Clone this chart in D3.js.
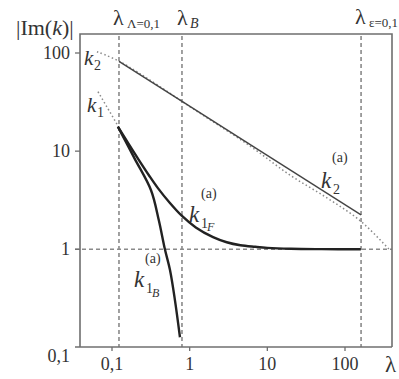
<!DOCTYPE html>
<html>
<head>
<meta charset="utf-8">
<script src="https://cdn.jsdelivr.net/npm/d3@7"></script>
<style>
  html, body { margin: 0; padding: 0; background: #fff; }
  svg { display: block; }
</style>
</head>
<body>
<svg id="chart" width="399" height="379" font-family="'Liberation Serif', 'Times New Roman', serif"></svg>
<script>
// ---- data ----
const xTicks = [0.1, 1, 10, 100];
const xTickLabels = ["0,1", "1", "10", "100"];
const yTicks = [100, 10, 1, 0.1];
const yTickLabels = ["100", "10", "1", "0,1"];

// vertical reference lambdas: λ_Λ=0,1 , λ_B , λ_ε=0,1
const refLambdas = [0.123, 0.796, 161];
const refLevel = 1;

// k2 solid (straight in log-log)
const k2Lambda = [0.123, 161];
const k2Value = [82, 2.24];

// k2 dotted asymptote
const k2DotLambda = [0.064, 0.127, 1.36, 5.97, 19.4, 60, 159, 378];
const k2DotValue  = [103, 81.5, 24.3, 11.3, 5.73, 3.3, 1.94, 0.98];

// k1 dotted asymptote
const k1DotLambda = [0.066, 0.119];
const k1DotValue  = [40.3, 18.2];

// k1F^(a)
const k1FLambda = [0.119, 0.16, 0.22, 0.3, 0.39, 0.55, 0.79, 1.2, 2, 3, 4.5, 7, 10, 20, 50, 160];
const k1FValue  = [17.8, 12.2, 8.2, 5.65, 4.2, 3.0, 2.2, 1.67, 1.33, 1.18, 1.1, 1.06, 1.035, 1.013, 1.004, 1.0];

// k1B^(a)
const k1BLambda = [0.119, 0.195, 0.318, 0.40, 0.48, 0.558, 0.646, 0.75];
const k1BValue  = [17.8, 8.45, 4.0, 1.99, 1.0, 0.615, 0.304, 0.127];

// ---- layout ----
const box = { left: 80, right: 392, top: 34, bottom: 347 };
const svg = d3.select("#chart");

const x = d3.scaleLog().domain([0.1, 100]).range([112, 345]);
const y = d3.scaleLog().domain([1, 100]).range([249.3, 53]);

const gray = "#6f6f6f";
const dark = "#222";
const textColor = "#333";

// dashed reference lines
svg.append("g").selectAll("line").data(refLambdas).join("line")
  .attr("x1", d => x(d)).attr("x2", d => x(d))
  .attr("y1", box.top + 2).attr("y2", box.bottom)
  .attr("stroke", "#8a8a8a").attr("stroke-width", 1.6)
  .attr("stroke-dasharray", "4,3");

svg.append("line")
  .attr("x1", box.left - 5).attr("x2", box.right)
  .attr("y1", y(refLevel)).attr("y2", y(refLevel))
  .attr("stroke", "#8a8a8a").attr("stroke-width", 1.6)
  .attr("stroke-dasharray", "4,3");

// frame
svg.append("path")
  .attr("d", `M${box.left},${box.bottom} V${box.top} H${box.right} V${box.bottom}`)
  .attr("fill", "none").attr("stroke", gray).attr("stroke-width", 1.6);
svg.append("line")
  .attr("x1", box.left - 5).attr("x2", box.right)
  .attr("y1", box.bottom).attr("y2", box.bottom)
  .attr("stroke", gray).attr("stroke-width", 1.6);

// x ticks
svg.append("g").selectAll("line").data(xTicks).join("line")
  .attr("x1", d => x(d)).attr("x2", d => x(d))
  .attr("y1", box.bottom).attr("y2", box.bottom + 4)
  .attr("stroke", gray).attr("stroke-width", 1.3);
svg.append("g").selectAll("text").data(xTicks).join("text")
  .attr("x", d => x(d)).attr("y", 370)
  .attr("text-anchor", "middle").attr("font-size", 18).attr("fill", textColor)
  .text((d, i) => xTickLabels[i]);

// y ticks
svg.append("g").selectAll("line").data(yTicks.filter(d => d > 0.1)).join("line")
  .attr("x1", box.left - 5).attr("x2", box.left)
  .attr("y1", d => y(d)).attr("y2", d => y(d))
  .attr("stroke", gray).attr("stroke-width", 1.3);
svg.append("g").selectAll("text").data(yTicks).join("text")
  .attr("x", 70).attr("y", d => d === 0.1 ? 362 : y(d) + 6)
  .attr("text-anchor", "end").attr("font-size", 18).attr("fill", textColor)
  .text((d, i) => yTickLabels[i]);

// curves
const line = d3.line().x(d => x(d[0])).y(d => y(d[1]));
const lineCurve = d3.line().x(d => x(d[0])).y(d => y(d[1])).curve(d3.curveCatmullRom);
const zip = (a, b) => a.map((v, i) => [v, b[i]]);

svg.append("path").attr("d", lineCurve(zip(k2DotLambda, k2DotValue)))
  .attr("fill", "none").attr("stroke", "#8a8a8a").attr("stroke-width", 1.5)
  .attr("stroke-dasharray", "1.5,2.5");
svg.append("path").attr("d", line(zip(k1DotLambda, k1DotValue)))
  .attr("fill", "none").attr("stroke", "#8a8a8a").attr("stroke-width", 1.5)
  .attr("stroke-dasharray", "1.5,2.5");

svg.append("path").attr("d", line(zip(k2Lambda, k2Value)))
  .attr("fill", "none").attr("stroke", "#444").attr("stroke-width", 1.4);

svg.append("path").attr("d", lineCurve(zip(k1FLambda, k1FValue)))
  .attr("fill", "none").attr("stroke", dark).attr("stroke-width", 2.4);
svg.append("path").attr("d", lineCurve(zip(k1BLambda, k1BValue)))
  .attr("fill", "none").attr("stroke", dark).attr("stroke-width", 2.4);

// ---- text labels ----
function txt(px, py, size, str, italic) {
  return svg.append("text").attr("x", px).attr("y", py).attr("font-size", size)
    .attr("fill", textColor)
    .attr("font-style", italic ? "italic" : "normal").text(str);
}

// axis title |Im(k)|
const t = svg.append("text").attr("x", 16).attr("y", 35).attr("font-size", 22).attr("fill", textColor);
t.append("tspan").text("|Im(");
t.append("tspan").attr("font-style", "italic").text("k");
t.append("tspan").text(")|");

// x axis label λ
txt(385, 372, 23, "λ");

// top labels
txt(x(refLambdas[0]) - 6, 25, 22, "λ");
txt(x(refLambdas[0]) + 8, 28, 13, "Λ=0,1");
txt(x(refLambdas[1]) - 5, 25, 22, "λ");
txt(x(refLambdas[1]) + 8, 28, 14, "B", true);
txt(x(refLambdas[2]) - 6, 24, 22, "λ");
txt(x(refLambdas[2]) + 8, 27, 13, "ε=0,1");

// k2, k1 labels near left
txt(84, 65, 21, "k", true);
txt(94, 70, 14, "2");
txt(87, 112, 21, "k", true);
txt(97, 117, 14, "1");

// k2^(a)
txt(321, 188, 23, "k", true);
txt(332, 162, 14, "(a)");
txt(333, 194, 14, "2");

// k1F^(a)
txt(189, 222, 23, "k", true);
txt(201, 198, 14, "(a)");
txt(201, 228, 14, "1");
txt(207, 231, 12, "F", true);

// k1B^(a)
txt(134, 287, 23, "k", true);
txt(145, 263, 14, "(a)");
txt(146, 293, 14, "1");
txt(152, 297, 12, "B", true);
</script>
</body>
</html>
